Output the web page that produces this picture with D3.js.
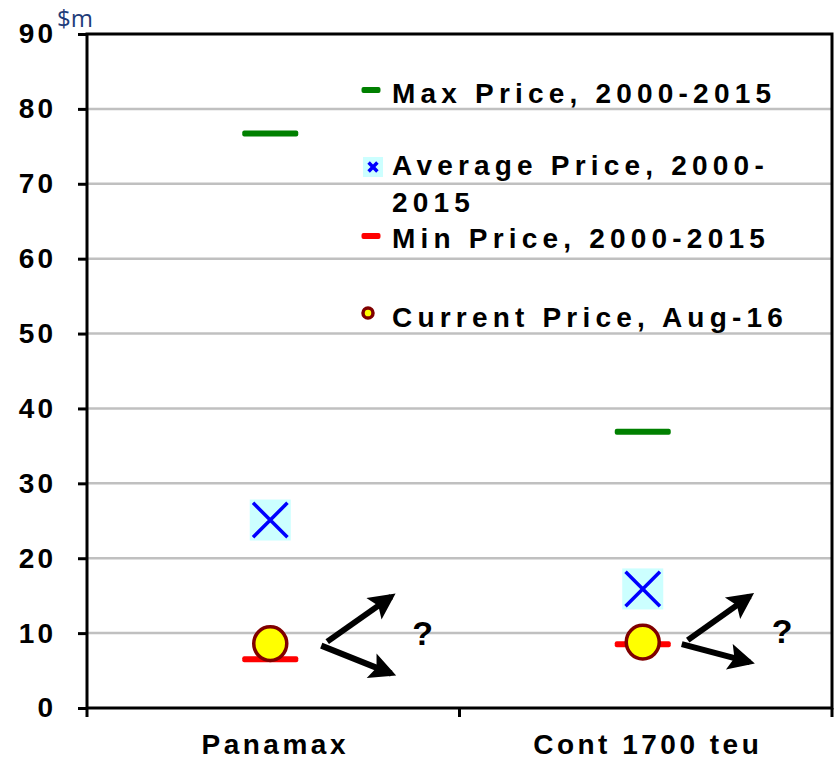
<!DOCTYPE html>
<html>
<head>
<meta charset="utf-8">
<script src="https://cdn.jsdelivr.net/npm/d3@7"></script>
<style>
  body { margin: 0; background: #fff; }
  svg text { font-family: "Liberation Sans", Arial, sans-serif; }
</style>
</head>
<body>
<div id="chart"></div>
<script>
// values in $m
var categories = ["Panamax", "Cont 1700 teu"];
var maxPrice = [76.7, 36.9];
var avgPrice = [25.1, 15.9];
var minPrice = [6.5, 8.5];
var currentPrice = [8.6, 8.8];
var yTicks = [0, 10, 20, 30, 40, 50, 60, 70, 80, 90];
var legendLabels = [
    ["Max Price, 2000-2015"],
    ["Average Price, 2000-", "2015"],
    ["Min Price, 2000-2015"],
    ["Current Price, Aug-16"]
];

var width = 837, height = 762;
var margin = { top: 34, right: 5, bottom: 54, left: 87 };

var svg = d3.select('#chart').append('svg')
    .attr('width', width)
    .attr('height', height);

var xScale = d3.scaleBand()
    .domain(categories)
    .range([margin.left, width - margin.right]);
var yScale = d3.scaleLinear()
    .domain([0, 90])
    .range([height - margin.bottom, margin.top]);

var x0 = margin.left, x1 = width - margin.right;
var yBottom = yScale(0), yTop = yScale(90);

// gridlines
svg.append('g')
    .selectAll('line')
    .data(yTicks.filter(d => d > 0 && d < 90))
    .enter().append('line')
    .attr('x1', x0).attr('x2', x1)
    .attr('y1', d => yScale(d)).attr('y2', d => yScale(d))
    .attr('stroke', '#c0c0c0')
    .attr('stroke-width', 2.5);

// frame
svg.append('rect')
    .attr('x', x0).attr('y', yTop)
    .attr('width', x1 - x0).attr('height', yBottom - yTop)
    .attr('fill', 'none')
    .attr('stroke', '#000')
    .attr('stroke-width', 3);

// y axis
var yAxis = d3.axisLeft(yScale).tickValues(yTicks).tickSize(9).tickPadding(22);
var gy = svg.append('g')
    .attr('transform', 'translate(' + x0 + ',0)')
    .call(yAxis);
gy.select('.domain').remove();
gy.selectAll('line').attr('stroke', '#000').attr('stroke-width', 3);
gy.selectAll('text')
    .style('font-family', '"Liberation Sans", Arial, sans-serif')
    .style('font-size', '28px')
    .style('font-weight', 700)
    .style('letter-spacing', '3px')
    .attr('fill', '#000');

// x axis ticks at band edges
var edges = [x0, xScale(categories[1]), x1];
svg.append('g')
    .selectAll('line')
    .data(edges)
    .enter().append('line')
    .attr('x1', d => d).attr('x2', d => d)
    .attr('y1', yBottom).attr('y2', yBottom + 9)
    .attr('stroke', '#000')
    .attr('stroke-width', 3);

svg.append('g')
    .selectAll('text')
    .data(categories)
    .enter().append('text')
    .attr('x', d => xScale(d) + xScale.bandwidth() / 2 + 2)
    .attr('y', 754)
    .attr('text-anchor', 'middle')
    .style('font-size', '28px')
    .style('font-weight', 700)
    .style('letter-spacing', '3.5px')
    .text(d => d);

// unit label
svg.append('text')
    .attr('x', 57).attr('y', 27)
    .style('font-family', '"Open Sans", "Noto Sans", sans-serif')
    .style('font-size', '24px')
    .attr('fill', '#1f3d7a')
    .text('$m');

var cx = function (i) { return xScale(categories[i]) + xScale.bandwidth() / 2 - 3; };

function dash(g, x, y, color, w) {
    g.append('rect')
        .attr('x', x - w / 2).attr('y', y - 3)
        .attr('width', w).attr('height', 6)
        .attr('rx', 2)
        .attr('fill', color);
}
function cross(g, x, y, s, k) {
    g.append('rect')
        .attr('x', x - s / 2).attr('y', y - s / 2)
        .attr('width', s).attr('height', s)
        .attr('fill', '#ccffff');
    var c = s * k;
    g.append('path')
        .attr('d', 'M' + (x - c) + ',' + (y - c) + 'L' + (x + c) + ',' + (y + c) +
            'M' + (x - c) + ',' + (y + c) + 'L' + (x + c) + ',' + (y - c))
        .attr('stroke', '#0000ff')
        .attr('stroke-width', 3.5);
}
function dot(g, x, y, r, sw) {
    g.append('ellipse')
        .attr('cx', x).attr('cy', y)
        .attr('rx', r).attr('ry', r * 1.02)
        .attr('fill', '#ffff00')
        .attr('stroke', '#800000')
        .attr('stroke-width', sw);
}

// markers
var marks = svg.append('g');
categories.forEach(function (c, i) {
    dash(marks, cx(i), yScale(maxPrice[i]), '#008000', 56);
    dash(marks, cx(i), yScale(minPrice[i]), '#ff0000', 56);
    cross(marks, cx(i), yScale(avgPrice[i]), 41, 0.42);
    dot(marks, cx(i), yScale(currentPrice[i]), 16.5, 3.5);
});

// arrows + question marks
svg.append('defs').append('marker')
    .attr('id', 'head')
    .attr('viewBox', '0 0 10 10')
    .attr('refX', 8).attr('refY', 5)
    .attr('markerWidth', 4.8).attr('markerHeight', 4.4)
    .attr('markerUnits', 'strokeWidth')
    .attr('orient', 'auto')
    .append('path')
    .attr('d', 'M0,0L10,5L0,10L2,5Z')
    .attr('fill', '#000');

// [start dx, up tip dx, up tip dy, down tip dy, "?" dx]
var arrowOffsets = [[52, 121, -47, 30, 142], [40, 107, -46, 20, 129]];
categories.forEach(function (c, i) {
    var x = cx(i), y = yScale(currentPrice[i]);
    var o = arrowOffsets[i];
    var segs = [[x + o[0] + 5, y - 2, x + o[1], y + o[2]], [x + o[0] - 1, y + 2, x + o[1], y + o[3]]];
    segs.forEach(function (a) {
        svg.append('line')
            .attr('x1', a[0]).attr('y1', a[1])
            .attr('x2', a[2]).attr('y2', a[3])
            .attr('stroke', '#000')
            .attr('stroke-width', 6)
            .attr('marker-end', 'url(#head)');
    });
    svg.append('text')
        .attr('x', x + o[4])
        .attr('y', y + 1)
        .style('font-size', '34px')
        .style('font-weight', 700)
        .text('?');
});

// legend
var legend = svg.append('g');
var legendX = 392;
var legendBase = [103, 175, 248, 327];
legendLabels.forEach(function (lines, i) {
    lines.forEach(function (t, j) {
        legend.append('text')
            .attr('x', legendX)
            .attr('y', legendBase[i] + j * 37)
            .style('font-size', '28px')
            .style('font-weight', 700)
            .style('letter-spacing', '5.2px')
            .text(t);
    });
});
dash(legend, 371, 90, '#008000', 19);
dash(legend, 371, 236, '#ff0000', 19);
cross(legend, 373, 167, 20, 0.22);
dot(legend, 368, 313, 5, 3.5);
</script>
</body>
</html>
